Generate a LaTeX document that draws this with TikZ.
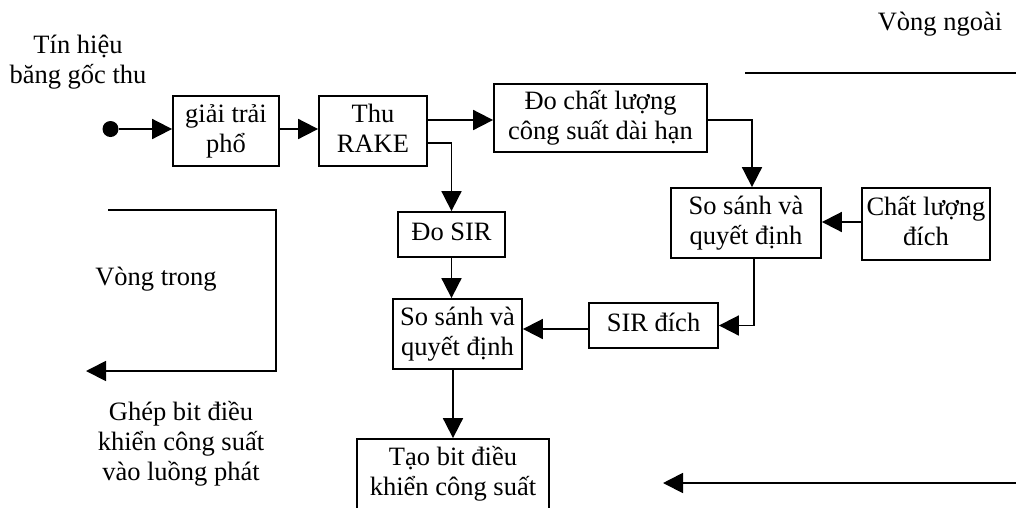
\documentclass[tikz,border=0pt]{standalone}
\usepackage{fontspec}
\setmainfont{Liberation Serif}
\usetikzlibrary{arrows.meta}
\newcommand\ls{\strut}
\begin{document}
\begin{tikzpicture}[x=1pt,y=-1pt,
  font=\fontsize{26.5}{30}\selectfont,
  box/.style={draw,line width=1.8pt,inner sep=0pt,align=center},
  lbl/.style={inner sep=0pt,align=center},
  arr/.style={line width=1.8pt,-{Triangle[length=20pt,width=20pt]}},
  ln/.style={line width=1.8pt}]
\useasboundingbox (0,0) rectangle (1016,507);
% boxes
\node[circle,fill,inner sep=0pt,minimum size=16pt] (dot) at (110.5,129) {};
\node[box,minimum width=106pt,minimum height=70pt] (giai) at (226,131) {\ls giải trải\\\ls phổ};
\node[box,minimum width=108pt,minimum height=70pt] (rake) at (373,131) {\ls Thu\\\ls RAKE};
\node[box,minimum width=213pt,minimum height=68pt] (doCL) at (600.5,118) {\ls Đo chất lượng\\\ls công suất dài hạn};
\node[box,minimum width=150pt,minimum height=70pt] (ss2) at (746,223) {\ls So sánh và\\\ls quyết định};
\node[box,minimum width=128pt,minimum height=72pt] (cld) at (926,224) {\ls Chất lượng\\\ls đích};
\node[box,minimum width=107pt,minimum height=45pt] (dosir) at (451.5,234.5) {\ls Đo SIR};
\node[box,minimum width=129pt,minimum height=70pt] (ss1) at (457.5,334) {\ls So sánh và\\\ls quyết định};
\node[box,minimum width=129pt,minimum height=45pt] (sird) at (653.5,325.5) {\ls SIR đích};
\node[box,minimum width=192pt,minimum height=70pt] (taobit) at (453,474) {\ls Tạo bit điều\\\ls khiển công suất};
% labels
\node[lbl,anchor=north] (tin) at (78,32) {\ls Tín hiệu\\\ls băng gốc thu};
\node[lbl,anchor=base] (vn) at (940,30) {Vòng ngoài};
\node[lbl,anchor=base] (vt) at (156,285) {Vòng trong};
\node[lbl,anchor=north] (ghep) at (181,399) {\ls Ghép bit điều\\\ls khiển công suất\\\ls vào luồng phát};
% connectors
\draw[arr] (dot.east) -- (dot.east -| giai.west);
\draw[arr] ([yshift=2pt]giai.east) -- ([yshift=2pt]giai.east -| rake.west);
\draw[arr] ([yshift=11pt]rake.east) -- ([yshift=11pt]rake.east -| doCL.west);
\draw[arr] ([yshift=-12pt]rake.east) -| (dosir.north);
\draw[arr] ([yshift=-2pt]doCL.east) -| ([xshift=6pt]ss2.north);
\draw[arr] ([yshift=2pt]cld.west) -- ([yshift=2pt]cld.west -| ss2.east);
\draw[arr] ([xshift=8pt]ss2.south) |- (sird.east);
\draw[arr] ([yshift=-3.5pt]sird.west) -- ([yshift=-3.5pt]sird.west -| ss1.east);
\draw[arr] (dosir.south) -- (dosir.south |- ss1.north);
\draw[arr] (taobit.north |- ss1.south) -- (taobit.north);
% loops
\coordinate (it1) at (108,210);
\coordinate (it2) at (276,210);
\coordinate (it3) at (276,371);
\coordinate (it4) at (86,371);
\draw[arr] (it1) -- (it2) -- (it3) -- (it4);
\coordinate (ot1) at (745,73);
\coordinate (ot2) at (1016,73);
\draw[ln] (ot1) -- (ot2);
\coordinate (ob1) at (1016,483);
\coordinate (ob2) at (663,483);
\draw[arr] (ob1) -- (ob2);
\end{tikzpicture}
\end{document}
